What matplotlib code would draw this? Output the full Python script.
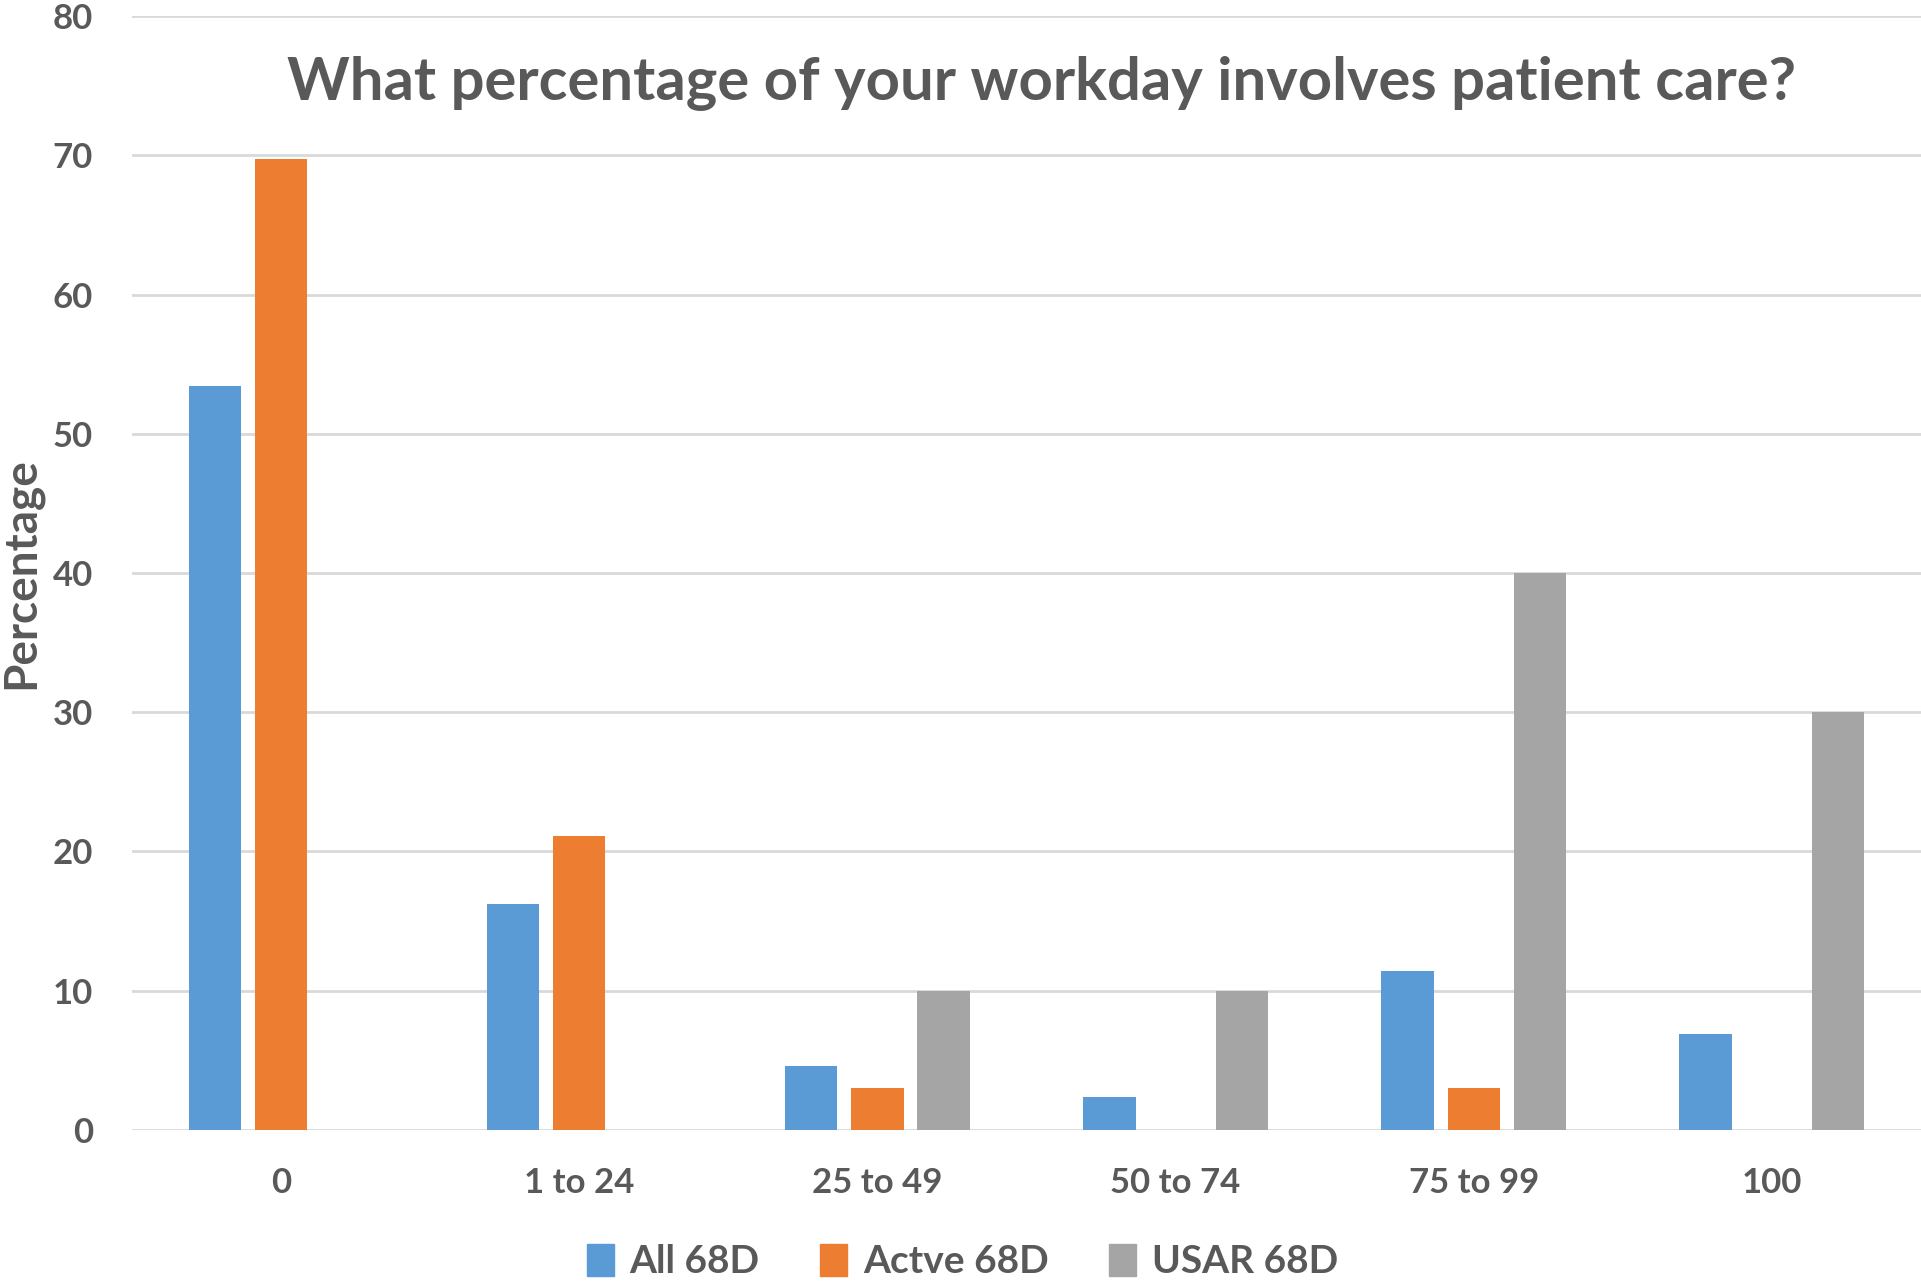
import numpy as np
import matplotlib
matplotlib.use("Agg")
import matplotlib.pyplot as plt
from matplotlib.patches import Patch

## Data
categories = ["0", "1 to 24", "25 to 49", "50 to 74", "75 to 99", "100"]
all_68d = [53.4, 16.2, 4.6, 2.4, 11.4, 6.9]
active_68d = [69.7, 21.1, 3.0, 0.0, 3.0, 0.0]
usar_68d = [0.0, 0.0, 10.0, 10.0, 40.0, 30.0]
series_names = ["All 68D", "Actve 68D", "USAR 68D"]
colors = ["#5b9bd5", "#ed7d31", "#a5a5a5"]
text_col = "#595959"

plt.rcParams['font.family'] = ['Lato', 'DejaVu Sans']
plt.rcParams['font.weight'] = 'bold'

fig = plt.figure(figsize=(19.21, 12.82), dpi=100)
ax = fig.add_axes([0.0687, 0.1186, 0.9313, 0.8689])

x = np.arange(len(categories))
step = 0.222
width = 0.176
for k, (vals, c) in enumerate(zip([all_68d, active_68d, usar_68d], colors)):
    ax.bar(x + (k - 1) * step, vals, width, color=c, zorder=3)

ax.set_xlim(-0.5, len(categories) - 0.5)
ax.set_ylim(0, 80)
ax.set_yticks(range(0, 81, 10))
ax.set_xticks(x)
ax.set_xticklabels(categories)
ax.grid(axis="y", color="#d9d9d9", lw=2, zorder=0)
for s in ax.spines.values():
    s.set_visible(False)
ax.tick_params(axis="both", length=0, labelsize=25, labelcolor=text_col)
ax.tick_params(axis="y", pad=28)
ax.tick_params(axis="x", pad=27)
for lab in ax.get_xticklabels() + ax.get_yticklabels():
    lab.set_fontweight("bold")

ax.set_ylabel("Percentage", fontsize=33, color=text_col, fontweight="bold")
ax.yaxis.set_label_coords(-0.05, 0.5)

fig.text(0.542, 0.935, "What percentage of your workday involves patient care?",
         ha="center", va="center", fontsize=43, color=text_col, fontweight="bold")

handles = [Patch(color=c) for c in colors]
fig.legend(handles, series_names, loc="center", bbox_to_anchor=(0.501, 0.016),
           ncol=3, frameon=False, labelcolor=text_col,
           handlelength=0.7, handleheight=0.9, handletextpad=0.4, columnspacing=1.55,
           prop={"weight": "bold", "size": 28})

fig.savefig("out.png", dpi=100)
